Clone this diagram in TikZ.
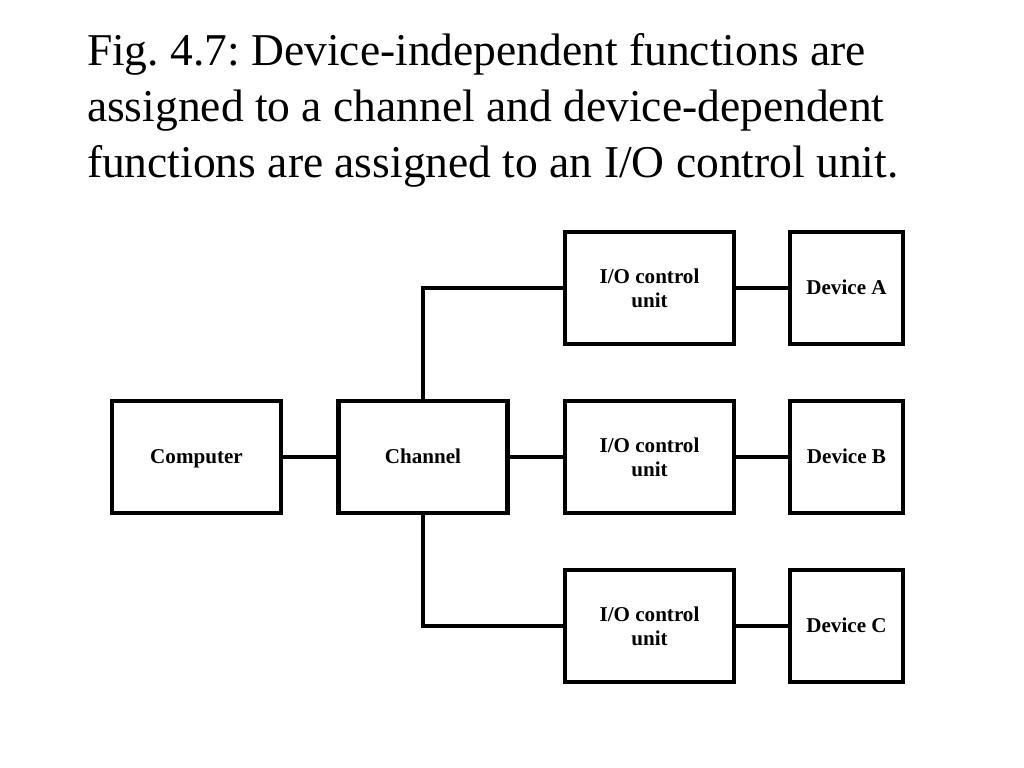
\documentclass[tikz,border=0pt]{standalone}
\usepackage{fontspec}
\setmainfont{Liberation Serif}
\usetikzlibrary{positioning}

\begin{document}
\frenchspacing
\begin{tikzpicture}[line width=2.3pt,node distance=4.53cm,on grid,
    unit/.style={draw,minimum width=3.38cm,minimum height=2.24cm,align=center,font=\fontsize{12}{13.5}\selectfont\bfseries},
    single/.style={unit,text height=2.1ex,text depth=.4ex},
    dev/.style={single,minimum width=2.26cm}]
    \useasboundingbox (0,0) rectangle (20.48,-15.36);
    \node [anchor=north west,align=left,inner sep=0pt,font=\fontsize{25.9}{32}\selectfont] (cap) at (1.70,-0.62)
        {Fig. 4.7: Device-independent functions are\\assigned to a channel and device-dependent\\functions are assigned to an I/O control unit.};
    \node [single] (comp) at (3.93,-9.14) {Computer};
    \node [single, right=of comp] (chan) {Channel};
    \node [unit, right=of chan] (io_b) {I/O control\\unit};
    \node [unit, above=3.38cm of io_b] (io_a) {I/O control\\unit};
    \node [unit, below=3.38cm of io_b] (io_c) {I/O control\\unit};
    \node [dev, right=3.94cm of io_a] (dev_a) {Device A};
    \node [dev, right=3.94cm of io_b] (dev_b) {Device B};
    \node [dev, right=3.94cm of io_c] (dev_c) {Device C};
    \draw (comp) -- (chan);
    \draw (chan) -- (io_b);
    \draw (chan.north) |- (io_a.west);
    \draw (chan.south) |- (io_c.west);
    \draw (io_a) -- (dev_a);
    \draw (io_b) -- (dev_b);
    \draw (io_c) -- (dev_c);
\end{tikzpicture}
\end{document}
